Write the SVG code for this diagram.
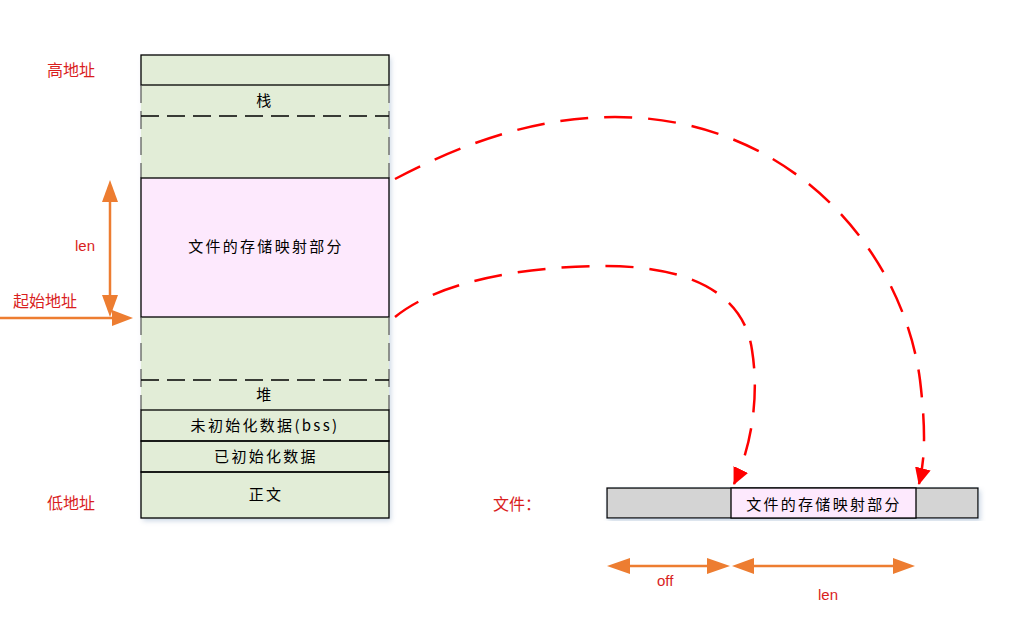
<svg xmlns="http://www.w3.org/2000/svg" width="1033" height="644" viewBox="0 0 1033 644">
<style>
.txt{font-family:"Noto Sans CJK SC","Liberation Sans",sans-serif;font-size:15px;fill:#000;text-anchor:middle;dominant-baseline:central;letter-spacing:2.3px}
.red{font-family:"Noto Sans CJK SC","Liberation Sans",sans-serif;font-size:16px;fill:#D91E1E;dominant-baseline:central}
.green{fill:#E2EDD7;stroke:none}
.pink{fill:#FDE9FD;stroke:#000;stroke-width:1.3}
.gray{fill:#D4D4D4;stroke:#000;stroke-width:1.3}
.solid{stroke:#000;stroke-width:1.3;fill:none}
.dash{stroke:#000;stroke-width:1.3;fill:none;stroke-dasharray:18 8}
.sdash{stroke:#555;stroke-width:1.2;fill:none;stroke-dasharray:18 8}
.orange{stroke:#ED7D31;stroke-width:2.5;fill:none}
.ohead{fill:#ED7D31}
.rcurve{stroke:#F00;stroke-width:2.5;fill:none;stroke-dasharray:28 16}
</style>
<defs>
<filter id="sh" x="-5%" y="-5%" width="115%" height="115%">
<feDropShadow dx="2" dy="3" stdDeviation="2.5" flood-color="#8FA9C8" flood-opacity="0.45"/>
</filter>
<marker id="rh" markerWidth="18" markerHeight="16" refX="16" refY="8" orient="auto" markerUnits="userSpaceOnUse">
<path d="M0,0 L17,8 L0,16 Z" fill="#F00"/>
</marker>
</defs>
<rect width="1033" height="644" fill="#fff"/>

<g id="memory">
<rect x="141" y="55" width="248" height="463" class="green" filter="url(#sh)"/>
<g id="top-block"><rect x="141" y="55" width="248" height="30" class="solid"/></g>
<g id="stack">
<line x1="141" y1="85" x2="141" y2="178" class="sdash"/>
<line x1="389" y1="85" x2="389" y2="178" class="sdash"/>
<line x1="141" y1="116" x2="389" y2="116" class="dash"/>
<text x="265" y="99" class="txt">栈</text>
</g>
<g id="mapped">
<rect x="141" y="178" width="248" height="139" class="pink"/>
<text x="266" y="245" class="txt">文件的存储映射部分</text>
</g>
<g id="heap">
<line x1="141" y1="317" x2="141" y2="410" class="sdash"/>
<line x1="389" y1="317" x2="389" y2="410" class="sdash"/>
<line x1="141" y1="380" x2="389" y2="380" class="dash"/>
<text x="265" y="393" class="txt">堆</text>
</g>
<g id="bss">
<rect x="141" y="410" width="248" height="31" class="solid"/>
<text x="265" y="424" class="txt">未初始化数据(bss)</text>
</g>
<g id="data">
<rect x="141" y="441" width="248" height="31" class="solid"/>
<text x="266" y="455" class="txt">已初始化数据</text>
</g>
<g id="text-seg">
<rect x="141" y="472" width="248" height="46" class="solid"/>
<text x="266" y="493" class="txt">正文</text>
</g>
</g>

<g id="labels">
<text x="47" y="69" class="red">高地址</text>
<text x="47" y="502" class="red">低地址</text>
<text x="13" y="300" class="red">起始地址</text>
<text x="75" y="245" class="red" style="font-family:'Liberation Sans',sans-serif;font-size:15px">len</text>
<text x="493" y="503" class="red">文件：</text>
<text x="657" y="580" class="red" style="font-family:'Liberation Sans',sans-serif;font-size:15px">off</text>
<text x="818" y="594" class="red" style="font-family:'Liberation Sans',sans-serif;font-size:15px">len</text>
</g>

<g id="file">
<rect x="607" y="488" width="371" height="30" class="gray" filter="url(#sh)"/>
<rect x="731" y="488" width="185" height="30" class="pink"/>
<text x="824" y="503" class="txt">文件的存储映射部分</text>
</g>

<g id="connectors">
<path d="M395,179 C475,137 545,117 615,117 C790,117 903,250 920,380 C926,430 925,460 919,484" class="rcurve" marker-end="url(#rh)"/>
<path d="M395,317 C440,280 530,266 605,266 C700,266 745,300 752,350 C760,400 750,450 734,484" class="rcurve" marker-end="url(#rh)"/>

<line x1="110" y1="195" x2="110" y2="302" class="orange"/>
<path d="M110,180 L118,202 L102,202 Z" class="ohead"/>
<path d="M110,317 L118,295 L102,295 Z" class="ohead"/>

<line x1="0" y1="318" x2="118" y2="318" class="orange"/>
<path d="M133,318 L112,310 L112,326 Z" class="ohead"/>

<line x1="620" y1="566" x2="718" y2="566" class="orange"/>
<path d="M607,566 L630,558 L630,574 Z" class="ohead"/>
<path d="M730,566 L707,558 L707,574 Z" class="ohead"/>

<line x1="745" y1="566" x2="902" y2="566" class="orange"/>
<path d="M732,566 L754,558 L754,574 Z" class="ohead"/>
<path d="M915,566 L893,558 L893,574 Z" class="ohead"/>
</g>
</svg>
